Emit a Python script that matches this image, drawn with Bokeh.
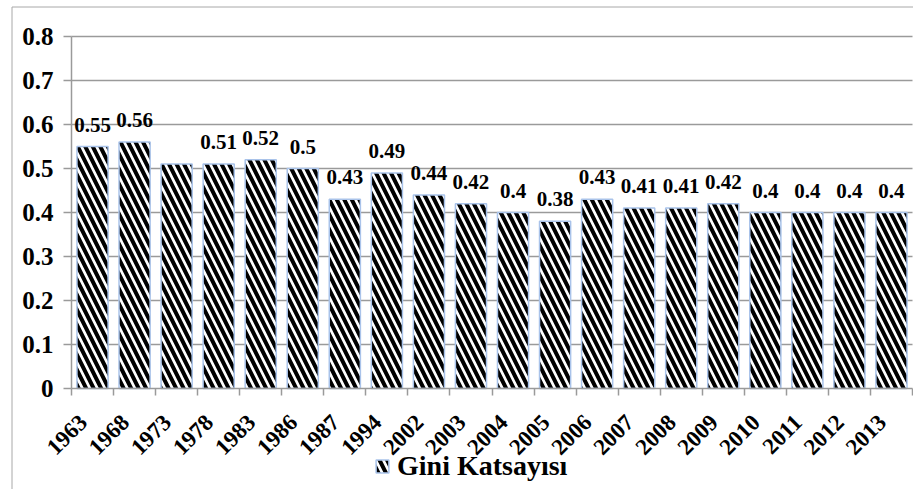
from bokeh.plotting import figure
from bokeh.models import ColumnDataSource, FixedTicker, LabelSet, Legend, LegendItem, Range1d
from bokeh.embed import file_html
from bokeh.resources import INLINE

years = ["1963", "1968", "1973", "1978", "1983", "1986", "1987", "1994", "2002", "2003",
         "2004", "2005", "2006", "2007", "2008", "2009", "2010", "2011", "2012", "2013"]
gini = [0.55, 0.56, 0.51, 0.51, 0.52, 0.50, 0.43, 0.49, 0.44, 0.42,
        0.40, 0.38, 0.43, 0.41, 0.41, 0.42, 0.40, 0.40, 0.40, 0.40]
labels = ["0.55", "0.56", "", "0.51", "0.52", "0.5", "0.43", "0.49", "0.44", "0.42",
          "0.4", "0.38", "0.43", "0.41", "0.41", "0.42", "0.4", "0.4", "0.4", "0.4"]
y_ticks = [0, 0.1, 0.2, 0.3, 0.4, 0.5, 0.6, 0.7, 0.8]
series_name = "Gini Katsayısı"

n = len(years)
xs = list(range(1, n + 1))
src = ColumnDataSource(dict(x=xs, top=gini, label=labels))

FONT = "Liberation Serif"
GRAY = "#9a9a9a"
WIDTH, HEIGHT = 913, 489

# layout: plot area from x=71px (axis) to 912px, y=36px (0.8) to 388px (0)
def dx(px):
    return 0.5 + (px - 71) * n / 841

def dy(py):
    return (388 - py) / 440

# The frame covers the whole picture; axes are pinned inside it
# so that the rotated year labels and the legend are not cut off.
p = figure(width=WIDTH, height=HEIGHT, output_backend="svg", toolbar_location=None,
           x_range=Range1d(dx(0), dx(WIDTH)), y_range=Range1d(dy(HEIGHT), dy(0)),
           min_border=0)
p.outline_line_color = None
p.xgrid.grid_line_color = None
p.ygrid.grid_line_color = None

# chart-area border (left and top edges)
p.segment(x0=[dx(11.5), dx(11.5)], y0=[dy(HEIGHT), dy(6.5)],
          x1=[dx(11.5), dx(WIDTH)], y1=[dy(6.5), dy(6.5)],
          line_color="#a8a8a8", line_width=1)

# horizontal gridlines between the axis and the right edge
grid_src = ColumnDataSource(dict(y=y_ticks[1:]))
p.segment(x0=0.5, x1=n + 0.5, y0="y", y1="y", source=grid_src,
          line_color=GRAY, line_width=1.5)

r = p.vbar(x="x", top="top", width=0.74, source=src, fill_color="white",
           line_color="#a9c3ea", line_width=1.5,
           hatch_pattern="\\", hatch_color="black", hatch_scale=15, hatch_weight=4)

# data labels
p.add_layout(LabelSet(x="x", y="top", text="label", source=src, y_offset=15,
                      text_align="center", text_baseline="bottom",
                      text_font=FONT, text_font_style="bold", text_font_size="21px",
                      text_color="black"))

# y axis
p.yaxis.fixed_location = 0.5
p.yaxis.ticker = FixedTicker(ticks=y_ticks)
p.yaxis.bounds = (0, 0.8)
p.yaxis.major_label_overrides = {0: "0"}
p.yaxis.major_label_text_font = FONT
p.yaxis.major_label_text_font_style = "bold"
p.yaxis.major_label_text_font_size = "25px"
p.yaxis.major_label_text_color = "black"
p.yaxis.major_label_standoff = 10
p.yaxis.axis_line_color = GRAY
p.yaxis.axis_line_width = 1.5
p.yaxis.major_tick_line_color = GRAY
p.yaxis.major_tick_line_width = 1.5
p.yaxis.major_tick_out = 8
p.yaxis.major_tick_in = 0
p.yaxis.minor_tick_line_color = None

# x axis at y = 0: rotated labels, tick marks at category boundaries
label_pos = [x - 0.22 for x in xs]
bounds = [i + 0.5 for i in range(n + 1)]
p.xaxis.fixed_location = 0
p.xaxis.bounds = (0.5, n + 0.5)
p.xaxis.ticker = FixedTicker(ticks=label_pos, minor_ticks=bounds)
p.xaxis.major_label_overrides = {x: y for x, y in zip(label_pos, years)}
p.xaxis.major_label_orientation = 0.785398
p.xaxis.major_label_text_font = FONT
p.xaxis.major_label_text_font_style = "bold"
p.xaxis.major_label_text_font_size = "23px"
p.xaxis.major_label_text_color = "black"
p.xaxis.major_label_standoff = 23
p.xaxis.major_tick_line_color = None
p.xaxis.major_tick_out = 7
p.xaxis.major_tick_in = 0
p.xaxis.minor_tick_line_color = GRAY
p.xaxis.minor_tick_line_width = 1.5
p.xaxis.minor_tick_out = 7
p.xaxis.minor_tick_in = 0
p.xaxis.axis_line_color = GRAY
p.xaxis.axis_line_width = 1.5

legend = Legend(items=[LegendItem(label=series_name, renderers=[r])],
                location=(374, 7), orientation="horizontal",
                label_text_font=FONT, label_text_font_style="bold",
                label_text_font_size="28px", label_text_color="black",
                glyph_width=16, glyph_height=16, label_standoff=7,
                border_line_color=None, background_fill_alpha=0,
                padding=0, margin=0)
p.add_layout(legend, "center")

open("out.html", "w").write(file_html(p, INLINE))
